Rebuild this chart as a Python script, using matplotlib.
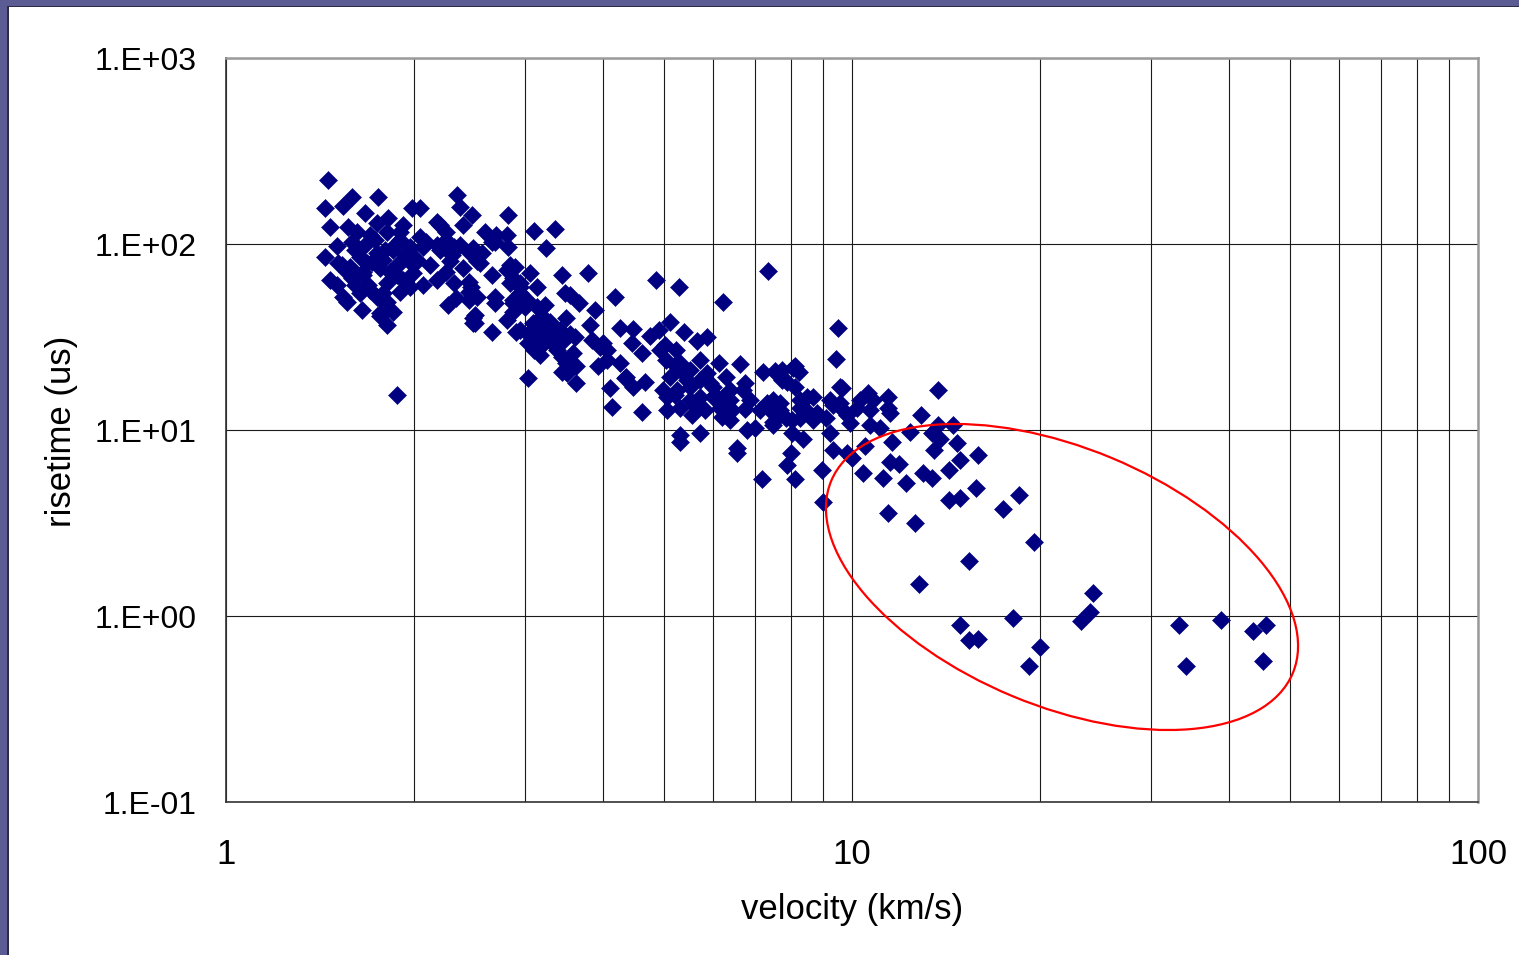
import matplotlib
matplotlib.use("Agg")
import matplotlib.pyplot as plt
from matplotlib.patches import Ellipse, Rectangle
from matplotlib.ticker import FixedLocator, NullFormatter

plt.rcParams['font.family'] = ['Liberation Sans', 'DejaVu Sans']

# ---- data: velocity (km/s) vs risetime (us) ----
slow_velocity = [
    1.455, 1.439, 1.537, 1.59, 1.75, 1.466, 1.566, 1.667, 1.743, 1.815,
    1.983, 2.04, 1.439, 1.504, 1.59, 1.70, 1.808, 1.897, 1.532, 1.637,
    1.743, 1.848, 1.968, 1.466, 1.56, 1.655, 1.762, 1.876, 1.99, 1.504,
    1.59, 1.686, 1.808, 1.918, 1.56, 1.65, 1.743, 1.808, 1.762, 1.848,
    1.808, 1.876, 1.51, 1.578, 1.68, 1.782, 1.897, 2.02, 1.918, 1.96,
    1.897, 1.782, 1.897, 1.968, 1.54, 1.637, 1.698, 1.762, 1.762, 1.876,
    1.99, 1.655, 1.607, 1.667, 1.73, 1.862, 1.795, 1.932, 1.71, 1.828,
    1.607, 1.62, 2.04,
]
slow_risetime = [
    221, 156, 160, 178, 180, 124, 124, 147, 130, 138,
    156, 156, 85, 97, 102, 112, 116, 116, 77, 85,
    89.5, 93, 96, 64, 71, 71, 74, 77, 77, 60,
    66, 60, 62, 64, 48.8, 44.2, 52, 48.8, 41, 43,
    36.7, 15.4, 79, 75, 79, 82, 79, 82, 127, 93,
    105, 54.5, 55, 58.5, 52, 54.5, 56.6, 51, 42.5, 68,
    69.5, 68, 93, 99, 105, 99, 93, 87, 80, 71,
    60, 116, 109,
]

mid_velocity = [
    2.34, 2.365, 2.472, 2.17, 2.246, 2.39, 2.198, 2.593, 2.70, 2.81,
    2.69, 2.82, 2.82, 3.106, 3.354, 3.245, 2.087, 2.17, 2.30, 2.454,
    2.246, 2.365, 2.48, 2.66, 2.118, 2.246, 2.39, 2.52, 2.065, 2.198,
    2.31, 2.565, 2.28, 2.546, 2.81, 2.90, 3.06, 3.44, 3.79, 2.065,
    2.31, 2.44, 2.17, 2.66, 2.843, 2.95, 3.14, 2.26, 2.33, 2.44,
    2.48, 2.44, 2.69, 2.69, 2.87, 3.03, 3.14, 3.48, 3.66, 3.886,
    4.18, 2.5, 2.5, 2.66, 2.87, 2.95, 3.17, 3.32, 3.49, 3.815,
    3.84, 3.958, 4.06, 3.17, 3.32, 3.44, 3.5, 3.62, 3.62, 3.04,
    4.106, 4.14, 2.843, 2.87, 2.95, 2.95, 2.52, 2.87, 3.0, 3.233,
    3.544, 2.81, 3.09, 3.2, 3.29, 4.26, 4.47, 2.91, 3.04, 3.544,
    2.48, 3.04, 3.25, 3.44, 3.61, 4.0, 3.11, 3.38, 3.58, 3.17,
    4.06, 4.45, 4.26, 3.49, 3.44, 3.93, 4.34, 4.47, 2.46, 3.12,
    3.23, 3.35, 3.42, 3.14, 4.36,
]
mid_risetime = [
    183, 158, 143, 131, 116, 127, 127, 116, 112, 112,
    103, 96, 143, 117, 121, 95, 102, 99, 87, 90,
    105, 99, 95, 103, 77, 71, 74, 81, 96, 93,
    96, 90, 81, 79, 72.5, 75, 70, 68, 70, 60,
    61.5, 62.5, 64, 68, 61.5, 59, 58.5, 47, 51, 55,
    40, 50, 52, 48, 50, 50, 46, 54.5, 48, 44,
    52, 41.5, 37.5, 33.5, 43, 34.5, 33.5, 35.5, 40, 36.7,
    30.5, 27.9, 23.8, 27.9, 29.3, 24.6, 20.3, 22, 18, 19,
    16.8, 13.3, 77, 66, 54.5, 61.5, 52, 48, 46, 47,
    53, 39, 37.5, 41, 38, 35.5, 35, 33.5, 33, 33,
    37.5, 29.3, 30.5, 29.7, 31.6, 29.3, 26.9, 26.9, 26, 25.3,
    26.9, 29.3, 23, 23, 20.6, 22, 19, 17, 59, 36.7,
    34.5, 31.5, 34.5, 30.5, 19.2,
]

fast_velocity = [
    4.86, 5.29, 6.22, 7.34, 4.757, 4.91, 5.12, 5.39, 5.65, 5.86,
    4.62, 5.03, 5.23, 5.05, 5.31, 5.72, 6.13, 6.62, 5.12, 5.37,
    5.86, 6.29, 6.75, 7.21, 7.56, 8.05, 8.23, 4.67, 4.99, 5.25,
    5.51, 5.99, 6.38, 6.7, 7.32, 7.56, 5.07, 5.31, 5.65, 6.15,
    6.43, 6.75, 4.62, 5.55, 6.2, 6.38, 6.8, 7.0, 7.47, 5.31,
    5.72, 5.31, 6.55, 5.45, 5.93, 7.74, 9.57, 10.59, 11.4, 13.7,
    5.07, 5.72, 5.99, 6.22, 7.47, 7.67, 7.85, 8.26, 8.48, 8.66,
    9.33, 9.67, 10.19, 10.8, 11.4, 8.02, 8.35, 6.55, 8.0, 7.87,
    7.17, 8.1, 9.5, 9.43, 7.53, 7.74, 8.11, 7.87, 8.11, 9.64,
    8.66, 7.47, 7.67, 8.26, 8.44, 9.22, 9.57, 10.3, 10.7, 11.5,
    8.02, 8.26, 8.8, 9.1, 9.8, 9.93, 10.7, 11.1, 7.47, 5.51,
    5.72, 6.04, 5.51, 5.21, 5.82, 6.38, 6.87, 7.13, 5.21, 4.93,
]
fast_risetime = [
    64, 58.5, 48.8, 71.5, 32, 34.5, 38, 33.5, 30, 31.6,
    26, 28.6, 26.9, 23.8, 23, 23.8, 23, 22.7, 19.2, 20.3,
    20.3, 19.2, 17.8, 20.6, 20.3, 21.6, 20.6, 18.2, 16.4, 16.4,
    17.1, 17.1, 16.4, 16.4, 14, 13.2, 12.8, 13.2, 13.2, 13.2,
    12.8, 13, 12.5, 12, 11.7, 11.3, 10, 10.2, 10.6, 9.4,
    9.6, 8.6, 8.0, 18.6, 17.8, 18.6, 17, 15.8, 15, 16.4,
    15, 15, 15, 15, 12.3, 13.9, 11.6, 13.2, 15, 11.3,
    13.6, 12.8, 13.2, 14.5, 13.2, 9.6, 9.0, 7.5, 7.5, 6.5,
    5.45, 5.45, 35.5, 24, 20.8, 21, 22, 18.2, 17, 16.8,
    15, 14.5, 12.8, 14.5, 12.8, 14.5, 13.9, 14.5, 12.8, 12.3,
    11.3, 11.6, 12.3, 11.6, 12, 10.9, 10.6, 10.3, 11, 21,
    18.6, 15.4, 14.5, 15.4, 12.8, 14.5, 14.5, 12.8, 22.4, 26.9,
]

# events inside the highlighted region
circled_velocity = [
    12.9, 14.5, 13.7, 12.4, 9.22, 11.6, 13.4, 13.8, 14.7, 9.33,
    9.8, 10.5, 10.0, 13.5, 15.9, 14.9, 11.5, 11.9, 8.95, 10.4,
    11.2, 12.2, 13.0, 13.4, 14.3, 15.8, 14.3, 14.9, 18.5, 17.4,
    9.0, 11.4, 12.6, 19.5, 15.4, 12.8, 24.3, 24.0, 23.2, 18.1,
    14.9, 15.4, 15.9, 20.0, 19.2, 33.3, 38.8, 43.7, 45.8, 34.2,
    45.4,
]
circled_risetime = [
    12.0, 10.6, 10.6, 9.75, 9.6, 8.6, 9.6, 9.0, 8.5, 7.8,
    7.5, 8.2, 7.1, 7.8, 7.3, 6.9, 6.75, 6.6, 6.1, 5.9,
    5.55, 5.2, 5.9, 5.55, 6.1, 4.9, 4.2, 4.3, 4.5, 3.76,
    4.1, 3.6, 3.16, 2.5, 1.98, 1.49, 1.33, 1.05, 0.94, 0.98,
    0.90, 0.74, 0.75, 0.685, 0.54, 0.90, 0.95, 0.83, 0.90, 0.54,
    0.57,
]

y_ticks = [0.1, 1, 10, 100, 1000]
y_tick_labels = ['1.E-01', '1.E+00', '1.E+01', '1.E+02', '1.E+03']
x_ticks = [1, 10, 100]
x_tick_labels = ['1', '10', '100']

W, H, DPI = 1519, 955, 100
fig = plt.figure(figsize=(W / DPI, H / DPI), dpi=DPI, facecolor='white')
ax = fig.add_axes([226 / W, 1 - 802 / H, (1478 - 226) / W, (802 - 58) / H])

marker_color = '#000080'
for vx, ry in [(slow_velocity, slow_risetime), (mid_velocity, mid_risetime),
               (fast_velocity, fast_risetime), (circled_velocity, circled_risetime)]:
    ax.plot(vx, ry, linestyle='none', marker='D', markersize=9.3,
            markerfacecolor=marker_color, markeredgecolor=marker_color,
            markeredgewidth=0.4, zorder=3)

ax.set_xscale('log')
ax.set_yscale('log')
ax.set_xlim(1, 100)
ax.set_ylim(0.1, 1000)

ax.set_yticks(y_ticks)
ax.set_yticklabels(y_tick_labels)
ax.set_xticks(x_ticks)
ax.set_xticklabels(x_tick_labels)
ax.xaxis.set_minor_locator(FixedLocator([m * d for d in (1, 10) for m in range(2, 10)]))
ax.xaxis.set_minor_formatter(NullFormatter())
ax.yaxis.set_minor_locator(FixedLocator([]))

ax.tick_params(axis='both', which='both', length=0)
ax.tick_params(axis='y', labelsize=23, pad=21)
ax.tick_params(axis='x', labelsize=25, pad=26)

ax.grid(which='major', axis='both', color='#1a1a1a', linewidth=0.8, zorder=1)
ax.grid(which='minor', axis='x', color='#1a1a1a', linewidth=0.8, zorder=1)
ax.set_axisbelow(True)

for side in ('left', 'bottom'):
    ax.spines[side].set_color('#333333')
    ax.spines[side].set_linewidth(1.2)
for side in ('top', 'right'):
    ax.spines[side].set_color('#9a9a9a')
    ax.spines[side].set_linewidth(1.8)

fig.text(852 / W, 1 - 909 / H, 'velocity (km/s)', fontsize=25,
         ha='center', va='center')
fig.text(62 / W, 1 - 431 / H, 'risetime (us)', fontsize=25,
         rotation=90, ha='center', va='center')

# highlight of the high-velocity, short-risetime events
fig.add_artist(Ellipse((1062 / DPI, (H - 577) / DPI), 500 / DPI, 258 / DPI,
                       angle=-22.6, transform=fig.dpi_scale_trans,
                       fill=False, edgecolor='#ff0000', linewidth=1.6, zorder=5))

# slide frame
frame = '#5c5c94'
fig.add_artist(Rectangle((0, 0), 8 / W, 1, transform=fig.transFigure,
                         facecolor=frame, edgecolor='none', zorder=6))
fig.add_artist(Rectangle((7 / W, 0), 1.5 / W, 1 - 6 / H, transform=fig.transFigure,
                         facecolor='#2c2c48', edgecolor='none', zorder=6))
fig.add_artist(Rectangle((0, 1 - 7 / H), 1, 7 / H, transform=fig.transFigure,
                         facecolor=frame, edgecolor='none', zorder=6))
fig.add_artist(Rectangle((7 / W, 1 - 7.5 / H), 1, 1.5 / H, transform=fig.transFigure,
                         facecolor='#2c2c48', edgecolor='none', zorder=6))

fig.savefig('out.png', dpi=DPI, facecolor='white')
